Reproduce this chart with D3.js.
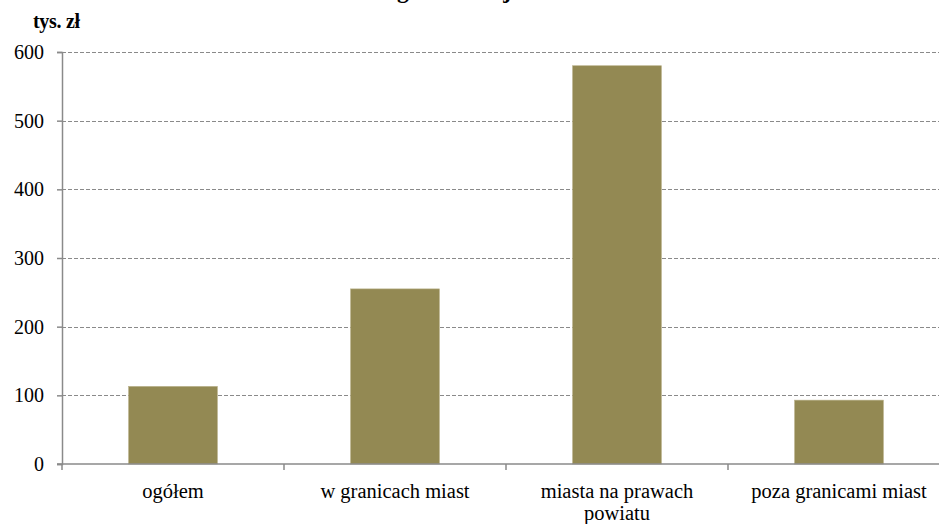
<!DOCTYPE html>
<html><head><meta charset="utf-8">
<script src="https://cdn.jsdelivr.net/npm/d3@7"></script>
<style>body{margin:0;background:#fff}svg{display:block}</style>
</head><body><svg id="c" width="939" height="524"></svg>
<script>
const categories = [["ogółem"], ["w granicach miast"], ["miasta na prawach", "powiatu"], ["poza granicami miast"]];
const values = [113, 255, 580, 93];
const yTicks = [0, 100, 200, 300, 400, 500, 600];
const title = "wg lokalizacji w 2011 r.";
const unit = "tys. zł";

const FONT = "Liberation Serif";
const svg = d3.select("#c");
const m = {left: 62, top: 52, bottom: 464, right: 950};
const x = d3.scaleBand().domain(d3.range(values.length)).range([m.left, m.right]).paddingInner(0).paddingOuter(0);
const y = d3.scaleLinear().domain([0, 600]).range([m.bottom, m.top]);

svg.append("text").attr("x", 380).attr("y", -2).attr("text-anchor", "start")
  .attr("font-family", FONT).attr("font-weight", "bold").attr("font-size", 23.5).text(title);
svg.append("text").attr("x", 33).attr("y", 28).attr("font-family", FONT).attr("font-weight", "bold")
  .attr("font-size", 20).attr("letter-spacing", -0.3).text(unit);

// grid
svg.append("g").selectAll("line").data(yTicks.filter(d => d > 0)).join("line")
  .attr("x1", m.left).attr("x2", 939).attr("y1", d => Math.round(y(d)) + 0.5).attr("y2", d => Math.round(y(d)) + 0.5)
  .attr("stroke", "#8a8a8a").attr("stroke-width", 1.2).attr("stroke-dasharray", "4,2");

// y axis
const ya = svg.append("g").attr("transform", `translate(${m.left},0)`)
  .call(d3.axisLeft(y).tickValues(yTicks).tickSize(5).tickPadding(13).tickFormat(d3.format("d")));
ya.attr("font-family", FONT).attr("font-size", 20);
ya.select(".domain").attr("stroke", "#8a8a8a").attr("stroke-width", 1.5);
ya.selectAll(".tick line").attr("stroke", "#8a8a8a").attr("stroke-width", 1.5);
ya.selectAll(".tick text").attr("fill", "#000").attr("font-family", FONT).attr("font-size", 20);

// bars
svg.append("g").selectAll("rect").data(values).join("rect")
  .attr("x", (d, i) => x(i) + x.bandwidth() * 0.3).attr("width", x.bandwidth() * 0.4)
  .attr("y", d => y(d)).attr("height", d => y(0) - y(d))
  .attr("fill", "#938953").attr("stroke", "#b8b088").attr("stroke-width", 0.6);

// x axis
const xa = svg.append("g").attr("transform", `translate(0,${m.bottom})`);
xa.append("line").attr("x1", m.left - 5).attr("x2", 939).attr("y1", 0).attr("y2", 0)
  .attr("stroke", "#8a8a8a").attr("stroke-width", 1.5);
xa.selectAll("line.t").data(d3.range(values.length + 1)).join("line").attr("class", "t")
  .attr("x1", i => i < values.length ? x(i) : m.right).attr("x2", i => i < values.length ? x(i) : m.right)
  .attr("y1", 0).attr("y2", 6).attr("stroke", "#8a8a8a").attr("stroke-width", 1.5);
const lab = xa.selectAll("text").data(categories).join("text")
  .attr("text-anchor", "middle").attr("font-family", FONT).attr("font-size", 20.5).attr("fill", "#000");
lab.each(function(lines, i) {
  d3.select(this).selectAll("tspan").data(lines).join("tspan")
    .attr("x", x(i) + x.bandwidth() / 2).attr("y", (d, j) => 34 + j * 22).text(d => d);
});
</script></body></html>
